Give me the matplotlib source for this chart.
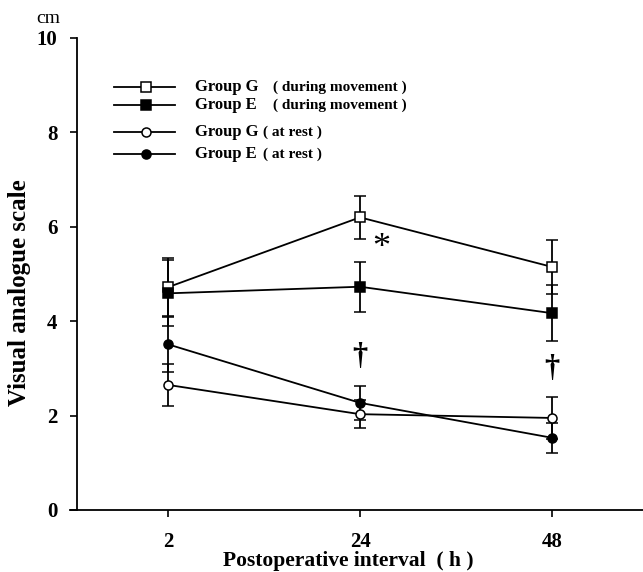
import matplotlib
matplotlib.use("Agg")
import matplotlib.pyplot as plt
from matplotlib.lines import Line2D

plt.rcParams['font.family'] = ['Liberation Serif', 'DejaVu Serif']
plt.rcParams['font.weight'] = 'bold'
plt.rcParams['axes.labelweight'] = 'bold'

# data (cm on the visual analogue scale)
intervals = ["2", "24", "48"]
g_move = [4.72, 6.20, 5.15]
g_move_err = [0.62, 0.45, 0.58]
e_move = [4.59, 4.73, 4.17]
e_move_err = [0.70, 0.53, 0.59]
g_rest = [2.65, 2.03, 1.95]
g_rest_err = [0.44, 0.29, 0.44]
e_rest = [3.51, 2.27, 1.53]
e_rest_err = [0.58, 0.36, 0.32]

series = [
    ("Group G", "( during movement )", g_move, g_move_err, "s", "white"),
    ("Group E", "( during movement )", e_move, e_move_err, "s", "black"),
    ("Group G", "( at rest )", g_rest, g_rest_err, "o", "white"),
    ("Group E", "( at rest )", e_rest, e_rest_err, "o", "black"),
]

fig = plt.figure(figsize=(6.43, 5.72), dpi=100)
ax = fig.add_axes([0.1198, 0.1084, 0.8802, 0.8252])

x = list(range(len(intervals)))
for name, cond, vals, errs, mk, fc in series:
    ms = 7.5 if mk == "s" else 6.5
    ax.errorbar(x, vals, yerr=errs, color="black", lw=1.3, marker=mk,
                markersize=ms, markerfacecolor=fc, markeredgecolor="black",
                markeredgewidth=1.1, capsize=4, elinewidth=1.3, capthick=1.3)

# significance marks
ax.text(1.11, 5.55, "*", fontsize=26, fontweight="normal", ha="center", va="center")
ax.text(1.0, 3.25, "\u2020", fontsize=22, ha="center", va="center")
ax.text(2.0, 3.0, "\u2020", fontsize=22, ha="center", va="center")

ax.set_xlim(-0.474, 2.474)
ax.set_ylim(0, 10)
ax.set_xticks(x)
ax.set_xticklabels(intervals)
ax.set_yticks([0, 2, 4, 6, 8, 10])
ax.tick_params(axis="x", direction="out", length=5, width=1.2, pad=11, labelsize=15)
ax.tick_params(axis="y", direction="out", length=5, width=1.2, pad=9, labelsize=15)
ax.spines['top'].set_visible(False)
ax.spines['right'].set_visible(False)
ax.spines['left'].set_linewidth(1.3)
ax.spines['bottom'].set_linewidth(1.3)
ax.spines['bottom'].set_bounds(-0.51, 2.474)

ax.set_ylabel("Visual analogue scale", fontsize=18)
ax.yaxis.set_label_coords(-0.082, 0.46)
ax.set_xlabel("Postoperative interval  ( h )", fontsize=15.5)
ax.xaxis.set_label_coords(0.479, -0.086)
fig.text(0.075, 0.967, "cm", fontsize=14, fontweight="normal", ha="center", va="center")

# hand-drawn legend in the upper left
rows = [0.896, 0.858, 0.801, 0.754]
paren_x = [0.346, 0.346, 0.329, 0.329]
for (name, cond, vals, errs, mk, fc), ry, px in zip(series, rows, paren_x):
    ms = 7.5 if mk == "s" else 6.5
    ax.add_line(Line2D([0.065, 0.173], [ry, ry], transform=ax.transAxes,
                       color="black", lw=1.3))
    ax.add_line(Line2D([0.122], [ry], transform=ax.transAxes, marker=mk,
                       markersize=ms, markerfacecolor=fc,
                       markeredgecolor="black", markeredgewidth=1.1, lw=0))
    ax.text(0.208, ry, name, transform=ax.transAxes, fontsize=12, va="center")
    ax.text(px, ry, cond, transform=ax.transAxes, fontsize=11, va="center")

fig.savefig("out.png", dpi=100)
